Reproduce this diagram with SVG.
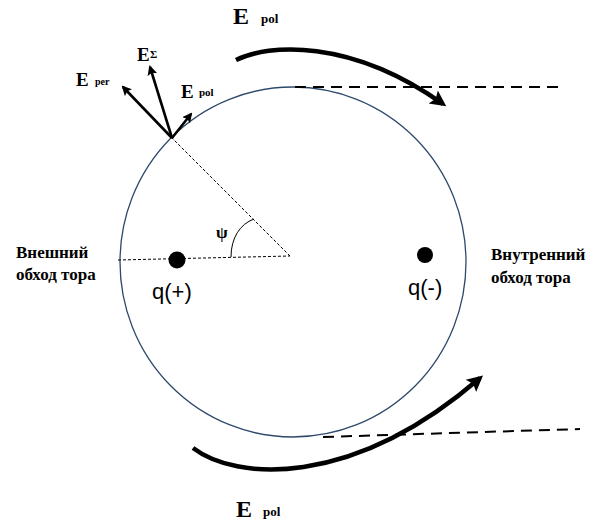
<svg xmlns="http://www.w3.org/2000/svg" width="603" height="523" viewBox="0 0 603 523">
<defs>
<style>
.lbl{font-family:"Liberation Serif","Times New Roman",serif;font-weight:bold;fill:#000}
.q{font-family:"Liberation Sans",Arial,sans-serif;fill:#000}
.vec{stroke:#000;stroke-width:2.6;fill:none}
.big{stroke:#000;stroke-width:4.5;fill:none}
.dash{stroke:#000;stroke-width:2;fill:none;stroke-dasharray:11 7}
.dot{stroke:#000;stroke-width:1;fill:none;stroke-dasharray:3 2}
</style>
<marker id="ah" markerWidth="10" markerHeight="10" refX="8" refY="5" orient="auto" markerUnits="userSpaceOnUse" viewBox="0 0 10 10">
<path d="M0,0 L10,5 L0,10 L2,5 z" fill="#000"/>
</marker>
<marker id="bh" markerWidth="18" markerHeight="18" refX="12" refY="9" orient="auto" markerUnits="userSpaceOnUse" viewBox="0 0 18 18">
<path d="M0,1 L16,9 L0,17 L3,9 z" fill="#000"/>
</marker>
</defs>
<rect width="603" height="523" fill="#fff"/>
<g id="torus">
<ellipse cx="293" cy="262" rx="173" ry="175" fill="none" stroke="#2E4A6B" stroke-width="1.3"/>
</g>
<g id="connectors">
<path class="dot" d="M118,260 L290,256"/>
<path class="dot" d="M290,256 L172,138"/>
<path d="M231,257 C231,238 240,224 254,219" fill="none" stroke="#000" stroke-width="1"/>
<path class="vec" d="M172,138 L191,114" marker-end="url(#ah)"/>
<path class="vec" d="M172,138 L150,67" marker-end="url(#ah)"/>
<path class="vec" d="M172,138 L123,87" marker-end="url(#ah)"/>
<path class="dash" d="M295,87 L558,87"/>
<path class="dash" d="M323,437 L580,429"/>
<path class="big" d="M236,60 C268,44 350,38 443,104" marker-end="url(#bh)"/>
<path class="big" d="M193,448 C235,480 350,490 480,378" marker-end="url(#bh)"/>
</g>
<g id="labels-vectors">
<text class="lbl" x="76" y="86" font-size="19">E</text>
<text class="lbl" x="95" y="85" font-size="10">per</text>
<text class="lbl" x="137" y="61" font-size="19">E</text>
<text class="lbl" x="150" y="58" font-size="11">Σ</text>
<text class="lbl" x="181" y="98" font-size="19">E</text>
<text class="lbl" x="199" y="96" font-size="11">pol</text>
<text class="lbl" x="216" y="238" font-size="17">ψ</text>
</g>
<g id="label-top">
<text class="lbl" x="233" y="24" font-size="24">E</text>
<text class="lbl" x="261" y="23" font-size="13">pol</text>
</g>
<g id="label-bottom">
<text class="lbl" x="236" y="517" font-size="24">E</text>
<text class="lbl" x="263" y="516" font-size="13">pol</text>
</g>
<g id="outer">
<text class="lbl" x="16" y="258" font-size="17">Внешний</text>
<text class="lbl" x="16" y="280" font-size="17">обход тора</text>
</g>
<g id="inner">
<text class="lbl" x="491" y="260" font-size="17">Внутренний</text>
<text class="lbl" x="491" y="283" font-size="17">обход тора</text>
</g>
<g id="qplus">
<circle cx="177" cy="260" r="8.5" fill="#000"/>
<text class="q" x="152" y="299" font-size="22">q(+)</text>
</g>
<g id="qminus">
<circle cx="425" cy="255" r="8" fill="#000"/>
<text class="q" x="408" y="295" font-size="22">q(-)</text>
</g>
</svg>
